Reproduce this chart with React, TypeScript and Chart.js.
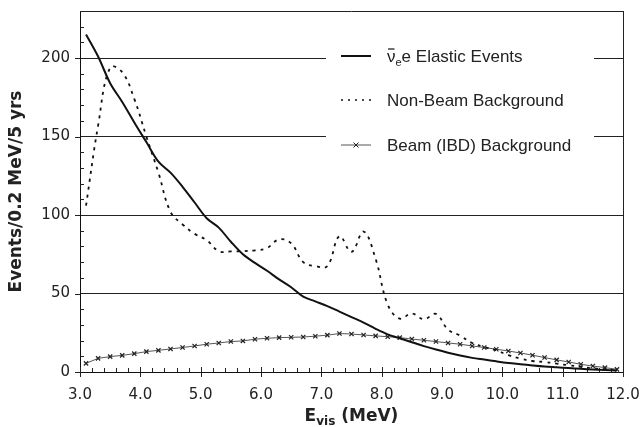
import { useEffect, useRef } from "react";
import { Chart, registerables } from "chart.js";

Chart.register(...registerables);

// Bin centres (MeV)
const energies = [
  3.1, 3.3, 3.5, 3.7, 3.9,
  4.1, 4.3, 4.5, 4.7, 4.9,
  5.1, 5.3, 5.5, 5.7, 5.9,
  6.1, 6.3, 6.5, 6.7, 6.9,
  7.1, 7.3, 7.5, 7.7, 7.9,
  8.1, 8.3, 8.5, 8.7, 8.9,
  9.1, 9.3, 9.5, 9.7, 9.9,
  10.1, 10.3, 10.5, 10.7, 10.9,
  11.1, 11.3, 11.5, 11.7, 11.9,
];

const elasticEvents = [
  215, 201, 184, 172, 159,
  146.5, 134, 127, 118, 108,
  98, 92, 83, 75, 69.5,
  64.5, 59, 54, 48, 45,
  42, 38.5, 35, 31.5, 27.5,
  24, 21.5, 19, 16.5, 14.3,
  12.3, 10.5, 9, 7.9, 6.8,
  5.8, 5, 4.2, 3.5, 3,
  2.5, 2, 1.6, 1.2, 0.9,
];

const nonBeamBackground = [
  106, 157, 194, 191, 174,
  150, 127, 102, 94, 88,
  84, 77, 76.8, 77, 77.5,
  79, 84.5, 82, 70, 67.5,
  67.5, 86.5, 76.5, 89.5, 72,
  43, 34, 37.3, 33.6, 37,
  27, 23.2, 18.5, 16, 13.8,
  10.7, 8.5, 7, 6.4, 5.3,
  4.3, 3.3, 2.4, 1.6, 1,
];

const beamBackground = [
  5.5, 8.7, 9.8, 10.6, 11.7,
  13, 13.8, 14.7, 15.6, 16.6,
  17.7, 18.5, 19.4, 19.8, 20.9,
  21.5, 21.9, 22.1, 22.3, 22.8,
  23.5, 24.5, 24.2, 23.6, 23,
  22.5, 21.9, 21, 20.2, 19.4,
  18.5, 17.7, 16.6, 15.6, 14.5,
  13.4, 12.1, 10.7, 9.2, 7.7,
  6.4, 4.9, 3.8, 2.8, 1.7,
];

const seriesLabels = ["e Elastic Events", "Non-Beam Background", "Beam (IBD) Background"];
const yAxisTitle = "Events/0.2 MeV/5 yrs";
const xAxisTitleMain = "E";
const xAxisTitleSub = "vis";
const xAxisTitleUnit = " (MeV)";

const X_MIN = 3;
const X_MAX = 12;
const Y_MIN = 0;
const Y_MAX = 230;

const pts = (ys: number[]) => energies.map((x, i) => ({ x, y: ys[i] }));

const decorPlugin = {
  id: "decor",
  beforeDatasetsDraw(chart: any) {
    const { ctx, chartArea, scales } = chart;
    const xs = scales.x;
    const ys = scales.y;
    ctx.save();
    ctx.strokeStyle = "#222";
    ctx.lineWidth = 1;
    // box top & right
    ctx.beginPath();
    ctx.moveTo(chartArea.left, Math.round(chartArea.top) + 0.5);
    ctx.lineTo(chartArea.right, Math.round(chartArea.top) + 0.5);
    ctx.moveTo(Math.round(chartArea.right) + 0.5, chartArea.top);
    ctx.lineTo(Math.round(chartArea.right) + 0.5, chartArea.bottom);
    ctx.stroke();
    // x ticks every 0.2
    ctx.beginPath();
    for (let k = 0; k <= 45; k++) {
      const v = X_MIN + k * 0.2;
      const px = Math.round(xs.getPixelForValue(v)) + 0.5;
      const b = chartArea.bottom;
      if (k % 5 === 0) {
        ctx.moveTo(px, b + 5);
        ctx.lineTo(px, b - 5);
      } else {
        ctx.moveTo(px, b);
        ctx.lineTo(px, b - 4);
      }
    }
    // y ticks every 10
    for (let v = Y_MIN; v <= Y_MAX; v += 10) {
      const py = Math.round(ys.getPixelForValue(v)) + 0.5;
      const l = chartArea.left;
      if (v % 50 === 0) {
        ctx.moveTo(l - 5, py);
        ctx.lineTo(l, py);
      } else {
        ctx.moveTo(l, py);
        ctx.lineTo(l + 4, py);
      }
    }
    ctx.stroke();
    ctx.restore();
  },
  afterDraw(chart: any) {
    const { ctx, chartArea } = chart;
    ctx.save();
    // legend box (white, covers gridlines)
    const lx = chartArea.right - 297;
    const ly = chartArea.top + 19;
    ctx.fillStyle = "#fff";
    ctx.fillRect(lx, ly, 268, 148);

    const rows = [ly + 26, ly + 70, ly + 115];
    const sx0 = lx + 15;
    const sx1 = lx + 45;
    const tx = lx + 61;
    const legendFont = "17px 'Liberation Sans', Arial, sans-serif";
    ctx.fillStyle = "#222";
    ctx.textBaseline = "middle";
    ctx.textAlign = "left";

    // row 1: solid
    ctx.strokeStyle = "#111";
    ctx.lineWidth = 2;
    ctx.setLineDash([]);
    ctx.beginPath();
    ctx.moveTo(sx0, rows[0]);
    ctx.lineTo(sx1, rows[0]);
    ctx.stroke();
    ctx.font = legendFont;
    const ty0 = rows[0] + 1;
    ctx.fillText("ν", tx, ty0);
    const nuW = ctx.measureText("ν").width;
    ctx.lineWidth = 1.2;
    ctx.beginPath();
    ctx.moveTo(tx + 1, ty0 - 8);
    ctx.lineTo(tx + nuW - 1, ty0 - 8);
    ctx.stroke();
    ctx.font = "11px 'Liberation Sans', Arial, sans-serif";
    ctx.fillText("e", tx + nuW, ty0 + 6);
    const subW = ctx.measureText("e").width;
    ctx.font = legendFont;
    ctx.fillText(seriesLabels[0], tx + nuW + subW, ty0);

    // row 2: dotted
    ctx.lineWidth = 1.6;
    ctx.setLineDash([2, 5]);
    ctx.beginPath();
    ctx.moveTo(sx0, rows[1]);
    ctx.lineTo(sx1, rows[1]);
    ctx.stroke();
    ctx.setLineDash([]);
    ctx.fillText(seriesLabels[1], tx, rows[1] + 1);

    // row 3: line with cross marker
    ctx.strokeStyle = "#555";
    ctx.lineWidth = 1;
    ctx.beginPath();
    ctx.moveTo(sx0, rows[2]);
    ctx.lineTo(sx1, rows[2]);
    ctx.stroke();
    const cx = (sx0 + sx1) / 2;
    ctx.strokeStyle = "#222";
    ctx.beginPath();
    ctx.moveTo(cx - 2.5, rows[2] - 2.5);
    ctx.lineTo(cx + 2.5, rows[2] + 2.5);
    ctx.moveTo(cx - 2.5, rows[2] + 2.5);
    ctx.lineTo(cx + 2.5, rows[2] - 2.5);
    ctx.stroke();
    ctx.fillText(seriesLabels[2], tx, rows[2] + 1);

    // y axis title
    const titleFont = "bold 17px 'DejaVu Sans', sans-serif";
    ctx.font = titleFont;
    ctx.fillStyle = "#222";
    ctx.save();
    ctx.translate(17, (chartArea.top + chartArea.bottom) / 2);
    ctx.rotate(-Math.PI / 2);
    ctx.textAlign = "center";
    ctx.textBaseline = "middle";
    ctx.fillText(yAxisTitle, 0, 0);
    ctx.restore();

    // x axis title with subscript
    const subFont = "bold 12px 'DejaVu Sans', sans-serif";
    ctx.font = titleFont;
    const wE = ctx.measureText(xAxisTitleMain).width;
    const wU = ctx.measureText(xAxisTitleUnit).width;
    ctx.font = subFont;
    const wS = ctx.measureText(xAxisTitleSub).width;
    const total = wE + wS + wU;
    const cxT = (chartArea.left + chartArea.right) / 2;
    let x0 = cxT - total / 2;
    const base = 421;
    ctx.textAlign = "left";
    ctx.textBaseline = "alphabetic";
    ctx.font = titleFont;
    ctx.fillText(xAxisTitleMain, x0, base);
    x0 += wE;
    ctx.font = subFont;
    ctx.fillText(xAxisTitleSub, x0, base + 4);
    x0 += wS;
    ctx.font = titleFont;
    ctx.fillText(xAxisTitleUnit, x0, base);
    ctx.restore();
  },
};

export default function App() {
  const canvasRef = useRef<HTMLCanvasElement | null>(null);

  useEffect(() => {
    document.body.style.margin = "0";
    const canvas = canvasRef.current;
    if (!canvas) return;
    const chart = new Chart(canvas, {
      type: "line",
      data: {
        datasets: [
          {
            label: seriesLabels[0],
            data: pts(elasticEvents),
            borderColor: "#111",
            borderWidth: 2,
            pointRadius: 0,
            tension: 0.35,
            fill: false,
          },
          {
            label: seriesLabels[1],
            data: pts(nonBeamBackground),
            borderColor: "#111",
            borderWidth: 1.8,
            borderDash: [3, 5],
            pointRadius: 0,
            tension: 0.4,
            fill: false,
          },
          {
            label: seriesLabels[2],
            data: pts(beamBackground),
            borderColor: "#555",
            borderWidth: 1,
            pointStyle: "crossRot",
            pointRadius: 3,
            pointBorderColor: "#222",
            pointBorderWidth: 1.2,
            tension: 0,
            fill: false,
          },
        ],
      },
      options: {
        animation: false,
        responsive: false,
        maintainAspectRatio: false,
        layout: { padding: { top: 11, right: 19, left: 0, bottom: 0 } },
        plugins: {
          legend: { display: false },
          tooltip: { enabled: false },
          title: { display: false },
        },
        scales: {
          x: {
            type: "linear",
            min: X_MIN,
            max: X_MAX,
            ticks: {
              stepSize: 1,
              autoSkip: false,
              maxRotation: 0,
              padding: 14,
              color: "#222",
              font: { family: "'DejaVu Sans'", size: 15 },
              callback: (v: any) => Number(v).toFixed(1),
            },
            grid: { display: false, drawTicks: false },
            border: { display: true, color: "#111", width: 1 },
            afterFit: (s: any) => {
              s.height = 55;
              s.paddingLeft = 0;
              s.paddingRight = 0;
            },
          },
          y: {
            type: "linear",
            min: Y_MIN,
            max: Y_MAX,
            ticks: {
              stepSize: 50,
              autoSkip: false,
              padding: 10,
              color: "#222",
              font: { family: "'DejaVu Sans'", size: 15 },
              callback: (v: any) => (Number(v) % 50 === 0 ? String(v) : ""),
            },
            grid: {
              drawTicks: false,
              lineWidth: 1,
              color: (c: any) =>
                c.tick && c.tick.value % 50 === 0 && c.tick.value > 0 && c.tick.value < Y_MAX
                  ? "#222"
                  : "rgba(0,0,0,0)",
            },
            border: { display: true, color: "#111", width: 1 },
            afterFit: (s: any) => {
              s.width = 80;
              s.paddingTop = 0;
              s.paddingBottom = 0;
            },
          },
        },
      },
      plugins: [decorPlugin],
    });
    return () => chart.destroy();
  }, []);

  return (
    <div style={{ width: 642, height: 427, background: "#fff" }}>
      <canvas ref={canvasRef} width={642} height={427} />
    </div>
  );
}
